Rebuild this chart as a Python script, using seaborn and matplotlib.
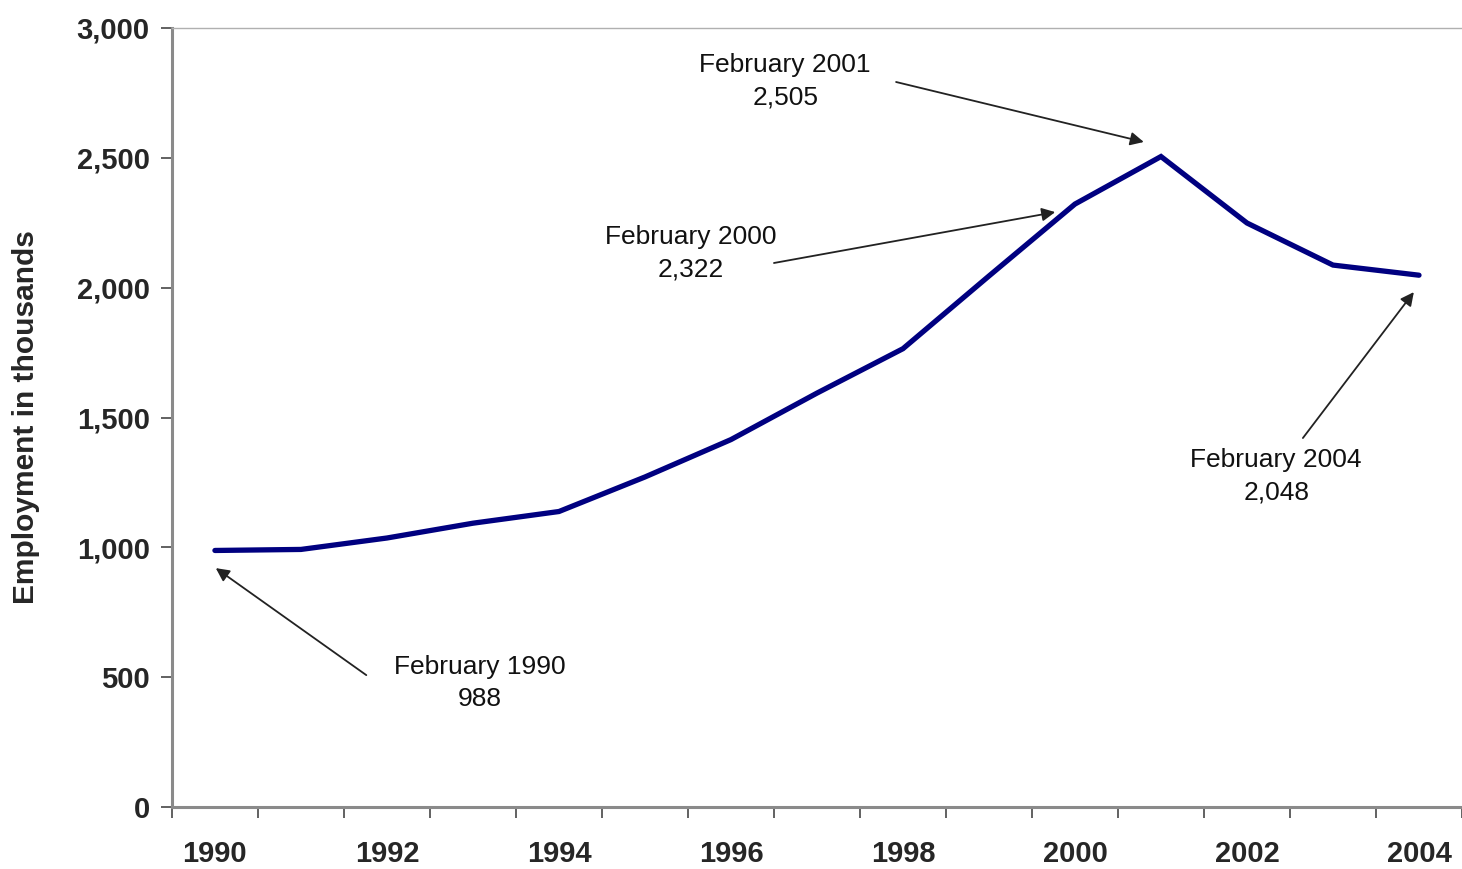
import matplotlib
matplotlib.use("Agg")
import matplotlib.pyplot as plt
import seaborn as sns
import pandas as pd
import numpy as np

# Employment (thousands), annual February readings
years = [1990, 1991, 1992, 1993, 1994, 1995, 1996, 1997,
         1998, 1999, 2000, 2001, 2002, 2003, 2004]
employment = [988, 992, 1036, 1093, 1138, 1271, 1415, 1594,
              1765, 2045, 2322, 2505, 2249, 2087, 2048]
year_labels = ["1990", "1992", "1994", "1996", "1998", "2000", "2002", "2004"]
y_ticks = [0, 500, 1000, 1500, 2000, 2500, 3000]

callout_text = ["February 1990\n988", "February 2000\n2,322",
                "February 2001\n2,505", "February 2004\n2,048"]

sns.set_style("white")
plt.rcParams["font.family"] = ["Liberation Sans", "DejaVu Sans"]

df = pd.DataFrame({"pos": np.arange(len(years)), "year": years, "value": employment})

fig = plt.figure(figsize=(14.62, 8.69), dpi=100)
ax = fig.add_axes([0.1176, 0.0713, 0.8824, 0.8965])

sns.lineplot(data=df, x="pos", y="value", ax=ax, color="#000080",
             linewidth=3.8, solid_joinstyle="miter")

ax.set_xlim(-0.5, len(years) - 0.5)
ax.set_ylim(0, 3000)

# category-style x axis: boundary ticks, labels centred every other year
ax.set_xticks(np.arange(-0.5, len(years), 1.0), minor=True)
label_pos = [years.index(int(y)) for y in year_labels]
ax.set_xticks(label_pos)
ax.set_xticklabels(year_labels, fontsize=21, fontweight="bold")
ax.tick_params(axis="x", which="both", bottom=True)
ax.tick_params(axis="x", which="major", length=0, pad=24)
ax.tick_params(axis="x", which="minor", length=8, width=1.3, color="#555555",
               direction="out")

ax.set_yticks(y_ticks)
ax.set_yticklabels([f"{v:,}" for v in y_ticks], fontsize=21, fontweight="bold")
ax.tick_params(axis="y", left=True, length=8, width=1.3, color="#555555",
               direction="out", pad=8)

ax.set_xlabel("")
ax.set_ylabel("Employment in thousands", fontsize=21.5, fontweight="bold", labelpad=26)

for side in ["left", "bottom"]:
    ax.spines[side].set_color("#8a8a8a")
    ax.spines[side].set_linewidth(2.2)
ax.spines["top"].set_color("#b0b0b0")
ax.spines["top"].set_linewidth(1.0)
ax.spines["right"].set_visible(False)

# callouts: (text centre, arrow tail, arrow head) in data units
text_xy = [(3.08, 477), (5.53, 2133), (6.63, 2796), (12.34, 1275)]
tails = [(1.76, 508), (6.50, 2095), (7.92, 2792), (12.65, 1421)]
heads = [(0.01, 920), (9.77, 2291), (10.80, 2561), (13.94, 1983)]

for txt, (tx, ty), tail, head in zip(callout_text, text_xy, tails, heads):
    ax.text(tx, ty, txt, ha="center", va="center", fontsize=19,
            linespacing=1.45, color="#111111")
    ax.annotate("", xy=head, xytext=tail,
                arrowprops=dict(arrowstyle="-|>", color="#222222", lw=1.3,
                                mutation_scale=20, shrinkA=0, shrinkB=0))

fig.savefig("out.png", dpi=100)
